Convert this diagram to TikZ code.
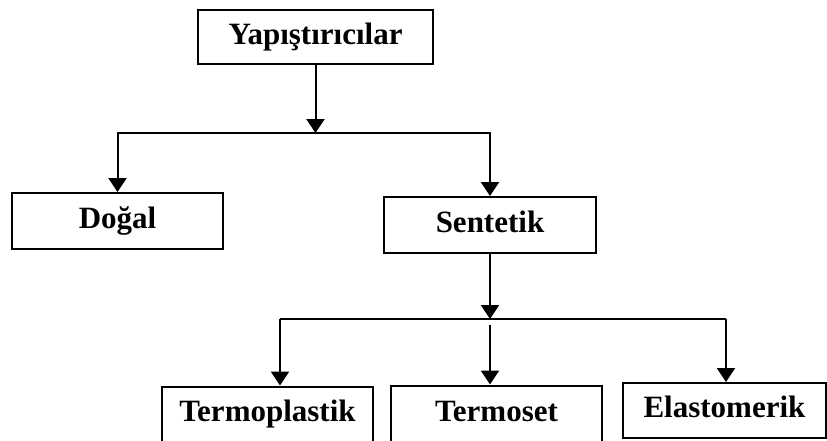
\documentclass[tikz,border=0pt]{standalone}
\usepackage{fontspec}
\setmainfont{Liberation Serif}
\usepackage{tikz}
\usetikzlibrary{arrows.meta}

\begin{document}
\begin{tikzpicture}[x=1pt,y=-1pt,
    box/.style={draw,line width=2pt,inner sep=0pt,text height=21pt,text depth=7pt,
        font=\fontsize{31}{36}\selectfont\bfseries},
    arr/.style={line width=2pt,-{Triangle[length=14pt,width=18pt]}},
    ln/.style={line width=2pt}]
    \useasboundingbox (0,0) rectangle (827,440);

    \node (y) at (315.5,37) [box,minimum width=235pt,minimum height=54pt] {Yapıştırıcılar};
    \node (d) at (117.5,221) [box,minimum width=211pt,minimum height=56pt] {Doğal};
    \node (s) at (490,225) [box,minimum width=212pt,minimum height=56pt] {Sentetik};
    \node (tp) at (267.5,414) [box,minimum width=211pt,minimum height=55pt] {Termoplastik};
    \node (ts) at (496.5,414) [box,minimum width=211pt,minimum height=57pt] {Termoset};
    \node (e) at (724.5,410.5) [box,minimum width=203pt,minimum height=55pt] {Elastomerik};

    \coordinate (j1) at (315.5,133);
    \coordinate (j2) at (490,319);
    \coordinate (l2) at (280,319);
    \coordinate (r2) at (726,319);

    \draw[ln] (d |- j1) -- (s |- j1);
    \draw[arr] (y) -- (j1);
    \draw[arr] (j1) -| (d);
    \draw[arr] (j1) -| (s);

    \draw[ln] (l2) -- (r2);
    \draw[arr] (s) -- (j2);
    \draw[arr] (l2) -- (l2 |- tp.north);
    \draw[arr,shorten <=6pt] (j2) -- (j2 |- ts.north);
    \draw[arr] (r2) -- (r2 |- e.north);
\end{tikzpicture}
\end{document}
